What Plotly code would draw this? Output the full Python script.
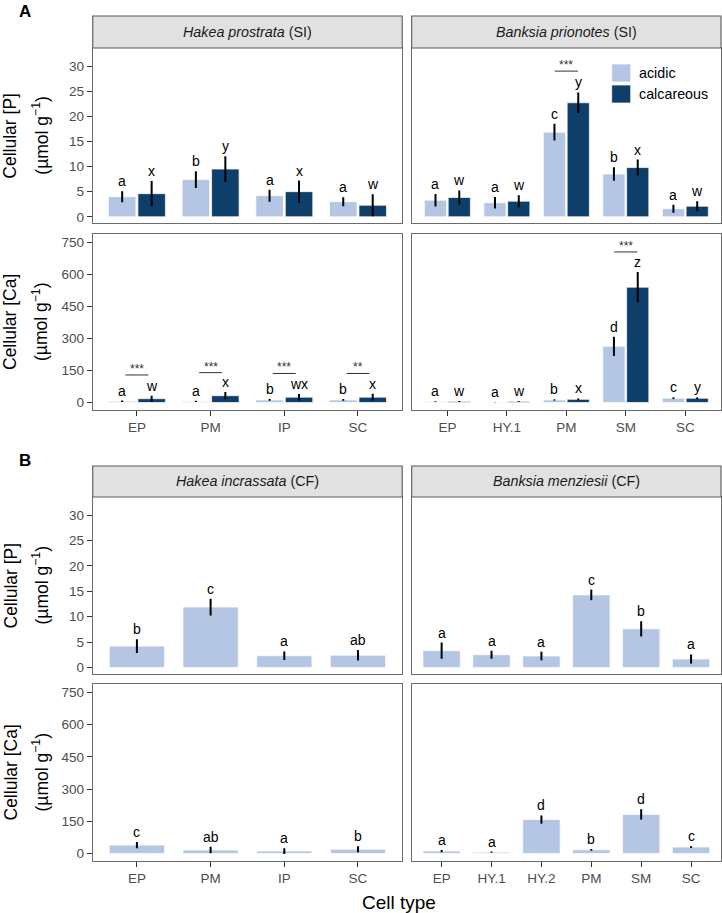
import plotly.graph_objects as go

W, H = 722, 913
FONT = "Liberation Sans, Arial, Helvetica, sans-serif"
ACID = "#B4C6E4"
CALC = "#0E3F6A"
BORDER = "#6b6b6b"

# ---- data ----
hp_cells = ["EP", "PM", "IP", "SC"]
bp_cells = ["EP", "HY.1", "PM", "SM", "SC"]
hi_cells = ["EP", "PM", "IP", "SC"]
bm_cells = ["EP", "HY.1", "HY.2", "PM", "SM", "SC"]

# Hakea prostrata (SI)
hp_p_acid = [4.0, 7.4, 4.2, 3.0]
hp_p_acid_err = [1.1, 1.65, 1.2, 0.9]
hp_p_calc = [4.6, 9.5, 5.0, 2.3]
hp_p_calc_err = [2.5, 2.55, 2.2, 2.2]
hp_p_acid_let = ["a", "b", "a", "a"]
hp_p_calc_let = ["x", "y", "x", "w"]
hp_p_sig = ["", "", "", ""]
hp_p_sig_y = [None, None, None, None]

hp_ca_acid = [6, 5, 12, 12]
hp_ca_acid_err = [3, 3, 4, 4]
hp_ca_calc = [18, 32, 25, 25]
hp_ca_calc_err = [14, 17, 15, 16]
hp_ca_acid_let = ["a", "a", "b", "b"]
hp_ca_calc_let = ["w", "x", "wx", "x"]
hp_ca_sig = ["***", "***", "***", "**"]
hp_ca_sig_y = [129, 140, 136, 136]

# Banksia prionotes (SI)
bp_p_acid = [3.3, 2.8, 16.85, 8.5, 1.6]
bp_p_acid_err = [1.25, 1.15, 1.65, 1.35, 0.8]
bp_p_calc = [3.85, 3.1, 22.7, 9.8, 2.1]
bp_p_calc_err = [1.4, 1.2, 2.05, 1.6, 1.0]
bp_p_acid_let = ["a", "a", "c", "b", "a"]
bp_p_calc_let = ["w", "w", "y", "x", "w"]
bp_p_sig = ["", "", "***", "", ""]
bp_p_sig_y = [None, None, 29.0, None, None]

bp_ca_acid = [4, 2, 12, 263, 20]
bp_ca_acid_err = [2, 1, 3, 45, 4]
bp_ca_calc = [5, 5, 15, 540, 20]
bp_ca_calc_err = [2, 2, 4, 71, 4]
bp_ca_acid_let = ["a", "a", "b", "d", "c"]
bp_ca_calc_let = ["w", "w", "x", "z", "y"]
bp_ca_sig = ["", "", "", "***", ""]
bp_ca_sig_y = [None, None, None, 705, None]

# Hakea incrassata (CF)
hi_p = [4.2, 11.9, 2.3, 2.4]
hi_p_err = [1.35, 1.65, 0.85, 1.05]
hi_p_let = ["b", "c", "a", "ab"]
hi_ca = [39, 16, 11, 20]
hi_ca_err = [15, 15, 13, 14]
hi_ca_let = ["c", "ab", "a", "b"]

# Banksia menziesii (CF)
bm_p = [3.3, 2.5, 2.25, 14.3, 7.6, 1.65]
bm_p_err = [1.6, 0.8, 0.85, 1.05, 1.5, 0.9]
bm_p_let = ["a", "a", "a", "c", "b", "a"]
bm_ca = [11, 6, 158, 17, 182, 30]
bm_ca_err = [5, 3, 19, 4, 24, 4]
bm_ca_let = ["a", "a", "d", "b", "d", "c"]

# ---- layout geometry (pixels) ----
COL_X = {"L": (92.7, 402.2), "R": (411.7, 721.0)}
ROW_Y = {"AP": (48.0, 223.3), "ACa": (234.0, 410.0), "BP": (497.0, 674.0), "BCa": (684.0, 861.0)}
STRIP_Y = {"A": (16.0, 48.0), "B": (466.0, 497.0)}
P_RANGE = [-1.3, 33.6]
CA_RANGE = [-35, 789]

fig = go.Figure()


def setup_axes(n, row, col, cats, kind, bottom):
    sx = "" if n == 1 else str(n)
    l, r = COL_X[col]
    t, b = ROW_Y[row]
    xa = dict(
        domain=[l / W, r / W], range=[0.4, len(cats) + 0.6], anchor="y" + sx,
        tickmode="array", tickvals=list(range(1, len(cats) + 1)), ticktext=cats,
        showline=True, mirror=True, linecolor=BORDER, linewidth=1.1,
        showgrid=False, zeroline=False, fixedrange=True,
        ticks="outside" if bottom else "", showticklabels=bottom,
        ticklen=5, tickwidth=1, tickcolor="#333333",
        tickfont=dict(size=13.5, color="#4d4d4d"),
    )
    if kind == "P":
        yr, yt = P_RANGE, [0, 5, 10, 15, 20, 25, 30]
    else:
        yr, yt = CA_RANGE, [0, 150, 300, 450, 600, 750]
    ya = dict(
        domain=[1 - b / H, 1 - t / H], range=yr, anchor="x" + sx,
        tickmode="array", tickvals=yt,
        showline=True, mirror=True, linecolor=BORDER, linewidth=1.1,
        showgrid=False, zeroline=False, fixedrange=True,
        ticks="outside" if col == "L" else "", showticklabels=(col == "L"),
        ticklen=5, tickwidth=1, tickcolor="#333333",
        tickfont=dict(size=13.5, color="#4d4d4d"),
    )
    fig.update_layout({"xaxis" + sx: xa, "yaxis" + sx: ya})
    return sx


def add_bars(sx, xs, vals, errs, color, width):
    fig.add_trace(go.Bar(
        x=xs, y=vals, width=width, xaxis="x" + sx, yaxis="y" + sx,
        marker=dict(color=color, line=dict(color="white", width=0.7)),
        error_y=dict(type="data", array=errs, visible=True, width=0,
                     thickness=2, color="black"),
        showlegend=False, hoverinfo="skip",
    ))


def add_letters(sx, xs, vals, errs, letters):
    for x, v, e, t in zip(xs, vals, errs, letters):
        fig.add_annotation(
            x=x, y=v + e, xref="x" + sx, yref="y" + sx, text=t,
            showarrow=False, yanchor="bottom", xanchor="center",
            font=dict(size=14, color="black"),
        )


def add_sig(sx, sigs, ys, half):
    for i, (s, y) in enumerate(zip(sigs, ys)):
        if not s:
            continue
        c = i + 1
        fig.add_shape(type="line", xref="x" + sx, yref="y" + sx,
                      x0=c - half, x1=c + half, y0=y, y1=y,
                      line=dict(color="#333333", width=1))
        fig.add_annotation(
            x=c, y=y, xref="x" + sx, yref="y" + sx, text=s,
            showarrow=False, yanchor="bottom", yshift=-3,
            font=dict(size=12, color="#333333"),
        )


def paired_panel(n, row, col, cats, kind, bottom, acid, acid_err, calc, calc_err,
                 acid_let, calc_let, sigs, sig_y, half):
    sx = setup_axes(n, row, col, cats, kind, bottom)
    xa = [i + 1 - 0.2 for i in range(len(cats))]
    xc = [i + 1 + 0.2 for i in range(len(cats))]
    add_bars(sx, xa, acid, acid_err, ACID, 0.373)
    add_bars(sx, xc, calc, calc_err, CALC, 0.373)
    add_letters(sx, xa, acid, acid_err, acid_let)
    add_letters(sx, xc, calc, calc_err, calc_let)
    add_sig(sx, sigs, sig_y, half)


def single_panel(n, row, col, cats, kind, bottom, vals, errs, letters):
    sx = setup_axes(n, row, col, cats, kind, bottom)
    xs = [i + 1 for i in range(len(cats))]
    add_bars(sx, xs, vals, errs, ACID, 0.75)
    add_letters(sx, xs, vals, errs, letters)


# Panel A
paired_panel(1, "AP", "L", hp_cells, "P", False, hp_p_acid, hp_p_acid_err, hp_p_calc,
             hp_p_calc_err, hp_p_acid_let, hp_p_calc_let, hp_p_sig, hp_p_sig_y, 0.155)
paired_panel(2, "AP", "R", bp_cells, "P", False, bp_p_acid, bp_p_acid_err, bp_p_calc,
             bp_p_calc_err, bp_p_acid_let, bp_p_calc_let, bp_p_sig, bp_p_sig_y, 0.195)
paired_panel(3, "ACa", "L", hp_cells, "Ca", True, hp_ca_acid, hp_ca_acid_err, hp_ca_calc,
             hp_ca_calc_err, hp_ca_acid_let, hp_ca_calc_let, hp_ca_sig, hp_ca_sig_y, 0.155)
paired_panel(4, "ACa", "R", bp_cells, "Ca", True, bp_ca_acid, bp_ca_acid_err, bp_ca_calc,
             bp_ca_calc_err, bp_ca_acid_let, bp_ca_calc_let, bp_ca_sig, bp_ca_sig_y, 0.195)

# Panel B
single_panel(5, "BP", "L", hi_cells, "P", False, hi_p, hi_p_err, hi_p_let)
single_panel(6, "BP", "R", bm_cells, "P", False, bm_p, bm_p_err, bm_p_let)
single_panel(7, "BCa", "L", hi_cells, "Ca", True, hi_ca, hi_ca_err, hi_ca_let)
single_panel(8, "BCa", "R", bm_cells, "Ca", True, bm_ca, bm_ca_err, bm_ca_let)

# Facet strips
strips = [
    ("A", "L", "<i>Hakea prostrata</i> (SI)"),
    ("A", "R", "<i>Banksia prionotes</i> (SI)"),
    ("B", "L", "<i>Hakea incrassata</i> (CF)"),
    ("B", "R", "<i>Banksia menziesii</i> (CF)"),
]
for blk, col, label in strips:
    l, r = COL_X[col]
    t, b = STRIP_Y[blk]
    fig.add_shape(type="rect", xref="paper", yref="paper",
                  x0=l / W, x1=r / W, y0=1 - b / H, y1=1 - t / H,
                  fillcolor="#e2e1e2", line=dict(color="#5a5a5a", width=1.1))
    fig.add_annotation(x=(l + r) / 2 / W, y=1 - (t + b) / 2 / H, xref="paper", yref="paper",
                       text=label, showarrow=False, xanchor="center", yanchor="middle",
                       font=dict(size=14.3, color="#1a1a1a"))

# Y axis titles (two lines each)
for row, elem in [("AP", "P"), ("ACa", "Ca"), ("BP", "P"), ("BCa", "Ca")]:
    t, b = ROW_Y[row]
    yc = 1 - (t + b) / 2 / H
    fig.add_annotation(x=10 / W, y=yc, xref="paper", yref="paper", textangle=-90,
                       text=f"Cellular [{elem}]", showarrow=False,
                       xanchor="center", yanchor="middle",
                       font=dict(size=17.5, color="black"))
    fig.add_annotation(x=40 / W, y=yc, xref="paper", yref="paper", textangle=-90,
                       text="(µmol g<sup>−1</sup>)", showarrow=False,
                       xanchor="center", yanchor="middle",
                       font=dict(size=17.5, color="black"))

# Panel letters
fig.add_annotation(x=17 / W, y=1 - 11 / H, xref="paper", yref="paper", text="<b>A</b>",
                   showarrow=False, xanchor="left", yanchor="middle",
                   font=dict(size=17, color="black"))
fig.add_annotation(x=17 / W, y=1 - 460 / H, xref="paper", yref="paper", text="<b>B</b>",
                   showarrow=False, xanchor="left", yanchor="middle",
                   font=dict(size=17, color="black"))

# X axis title
fig.add_annotation(x=399 / W, y=1 - 902 / H, xref="paper", yref="paper", text="Cell type",
                   showarrow=False, xanchor="center", yanchor="middle",
                   font=dict(size=19, color="black"))

# Legend (drawn by hand inside the Banksia prionotes panel)
for (t, b), color, label in [((64, 82), ACID, "acidic"), ((85, 103), CALC, "calcareous")]:
    fig.add_shape(type="rect", xref="paper", yref="paper",
                  x0=611.7 / W, x1=630.7 / W, y0=1 - b / H, y1=1 - t / H,
                  fillcolor=color, line=dict(color="white", width=0.7))
    fig.add_annotation(x=636.7 / W, y=1 - (t + b) / 2 / H, xref="paper", yref="paper",
                       text=label, showarrow=False, xanchor="left", yanchor="middle",
                       font=dict(size=14.3, color="black"))

fig.update_layout(
    width=W, height=H,
    margin=dict(l=0, r=0, t=0, b=0),
    barmode="overlay",
    plot_bgcolor="white",
    paper_bgcolor="white",
    font=dict(family=FONT),
    showlegend=False,
)

fig.write_html(
    "out.html",
    config={"displayModeBar": False},
    post_script="document.body.style.margin='0';document.body.style.overflow='hidden';",
)
